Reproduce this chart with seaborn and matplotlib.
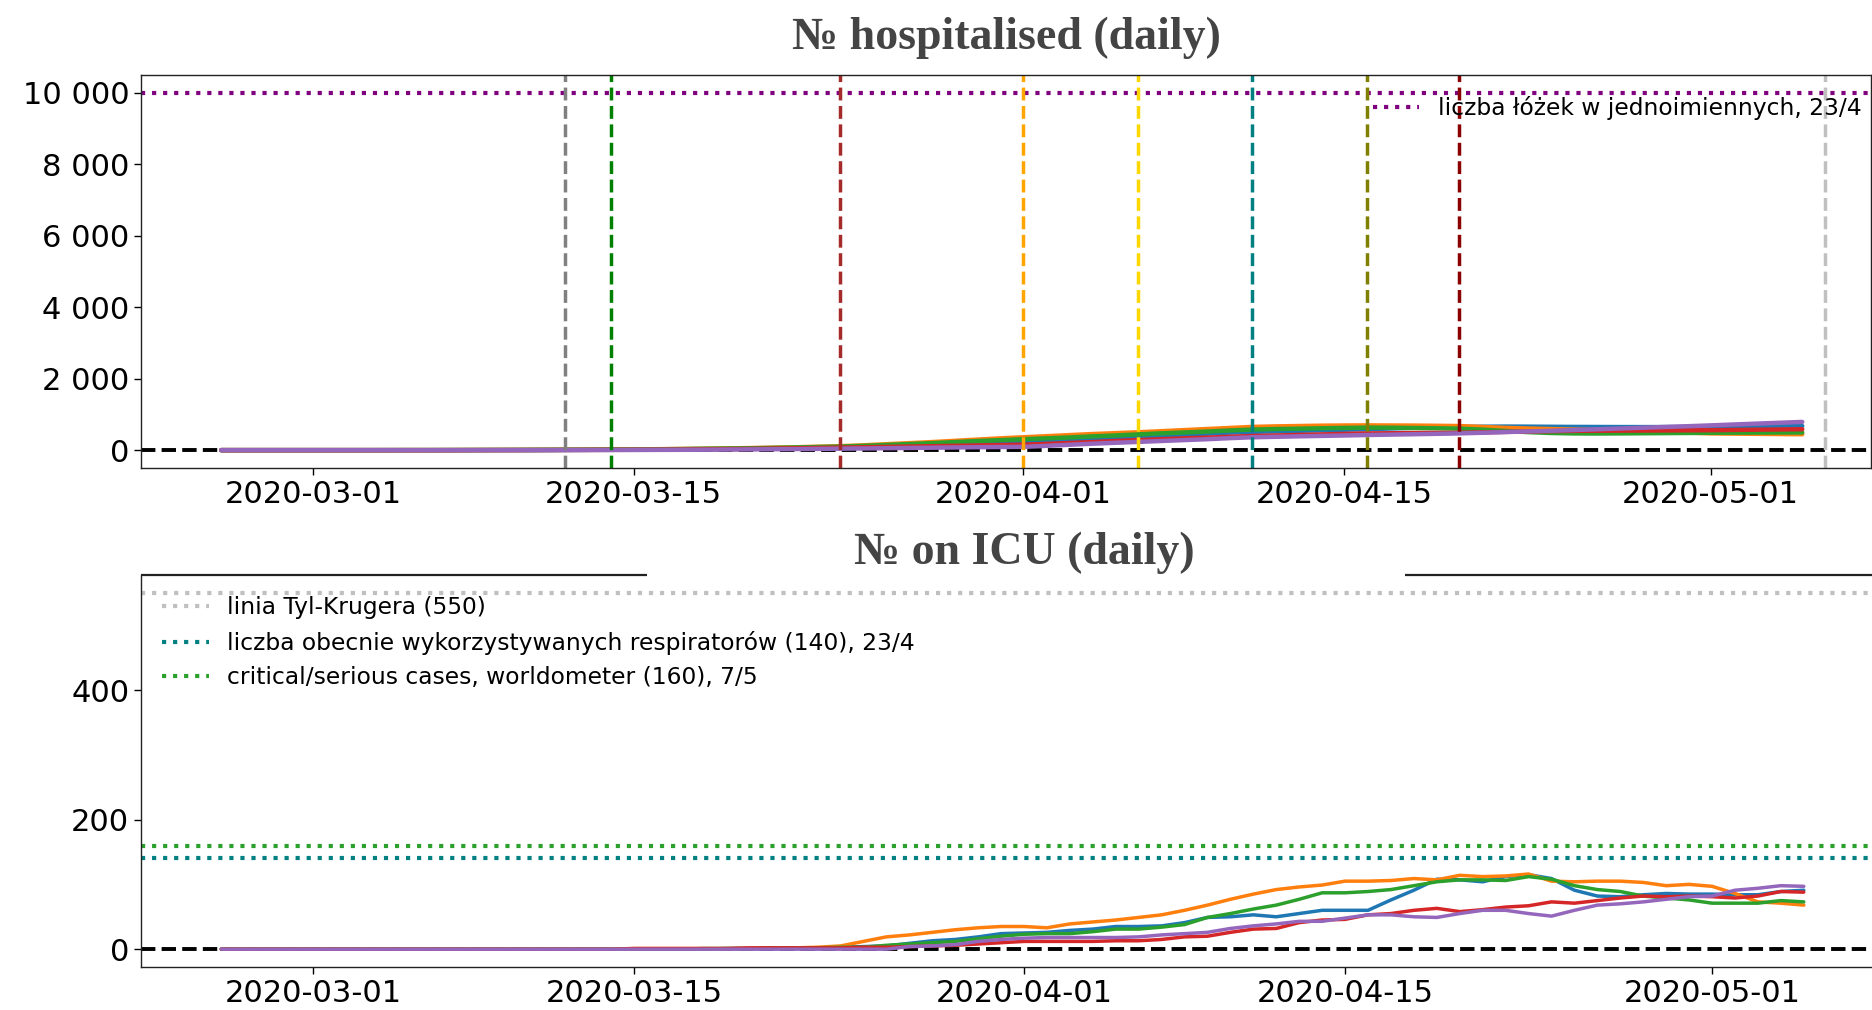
import numpy as np
import pandas as pd
import matplotlib
matplotlib.use("Agg")
import matplotlib.pyplot as plt
import matplotlib.dates as mdates
from matplotlib.ticker import FuncFormatter, FixedLocator
import seaborn as sns

# ---- data -------------------------------------------------------------
start_date = "2020-02-26"
end_date = "2020-05-05"
series_names = ["seria 1", "seria 2", "seria 3", "seria 4", "seria 5"]
series_colors = ["#1f77b4", "#ff7f0e", "#2ca02c", "#d62728", "#9467bd"]

# number hospitalised, daily
hosp_1 = [0, 0, 0, 0, 0, 0, 0, 0, 0, 0, 1, 2, 3, 4, 5, 7, 9, 12, 15, 19, 24, 30, 37, 45,
          53, 62, 71, 80, 95, 110, 125, 140, 160, 180, 198, 216, 245, 275, 305, 335, 370,
          400, 430, 460, 490, 513, 525, 540, 555, 570, 585, 605, 625, 640, 650, 655, 660,
          658, 654, 650, 648, 646, 645, 646, 648, 650, 655, 662, 668, 675]
hosp_2 = [0, 0, 0, 0, 0, 0, 0, 0, 1, 1, 2, 3, 4, 6, 8, 10, 13, 16, 20, 26, 33, 40, 48, 57,
          68, 80, 94, 110, 135, 165, 195, 225, 260, 295, 330, 360, 390, 420, 450, 475, 500,
          530, 560, 590, 620, 650, 665, 675, 685, 690, 693, 690, 688, 682, 675, 650, 625,
          605, 590, 576, 560, 545, 530, 510, 490, 468, 462, 456, 450, 445]
hosp_3 = [0, 0, 0, 0, 0, 0, 0, 0, 1, 1, 2, 3, 4, 5, 7, 9, 12, 15, 19, 24, 30, 37, 44, 52,
          62, 74, 87, 100, 120, 145, 170, 195, 225, 255, 280, 306, 330, 355, 385, 410, 440,
          470, 495, 520, 550, 576, 590, 600, 612, 622, 630, 628, 620, 612, 603, 575, 540,
          505, 480, 468, 465, 468, 472, 476, 480, 486, 489, 492, 494, 495]
hosp_4 = [0, 0, 0, 0, 0, 0, 0, 0, 0, 0, 0, 1, 2, 2, 3, 4, 6, 8, 10, 13, 17, 22, 28, 35,
          43, 52, 61, 70, 80, 90, 100, 110, 120, 130, 142, 153, 175, 200, 225, 255, 280,
          305, 330, 350, 375, 396, 410, 425, 440, 455, 468, 473, 478, 482, 486, 498, 510,
          520, 530, 540, 543, 546, 549, 552, 555, 558, 565, 572, 578, 585]
hosp_5 = [0, 0, 0, 0, 0, 0, 0, 0, 0, 0, 0, 0, 0, 0, 1, 2, 3, 4, 5, 7, 9, 12, 16, 20,
          25, 30, 35, 40, 47, 54, 61, 68, 75, 82, 87, 92, 120, 150, 180, 205, 230,
          255, 280, 305, 335, 360, 373, 386, 398, 410, 423, 434, 445, 456, 468, 486, 505,
          523, 541, 560, 582, 604, 626, 648, 670, 693, 718, 742, 766, 790]

# number on ICU, daily
icu_1 = [0] * 20 + [0, 0, 1, 1, 1, 2, 2, 3] + \
        [4, 5, 9, 13, 15, 19, 24] + \
        [25, 26, 29, 31, 35, 35, 36, 41, 49, 50, 53, 50, 55, 60, 60, 60, 76, 91, 108, 107,
         104, 112, 115, 109, 91, 82, 81, 84, 86, 85] + \
        [85, 84, 84, 89, 91]
icu_2 = [0] * 16 + [0, 0, 1, 1, 1, 1, 1, 1, 2, 2, 3, 5] + \
        [12, 19, 22, 26, 30, 33, 35] + \
        [35, 33, 39, 42, 45, 49, 53, 60, 68, 77, 85, 92, 96, 99, 105, 105, 106, 109, 107, 114,
         112, 113, 116, 105, 104, 105, 105, 103, 98, 100] + \
        [97, 86, 73, 71, 68]
icu_3 = [0] * 20 + [0, 1, 1, 1, 2, 2, 2, 3] + \
        [3, 6, 8, 10, 12, 16, 20] + \
        [23, 24, 24, 27, 31, 31, 34, 38, 49, 55, 62, 68, 77, 87, 87, 89, 92, 98, 104, 107,
         107, 106, 112, 108, 98, 92, 89, 82, 79, 76] + \
        [71, 71, 71, 75, 73]
icu_4 = [0] * 16 + [0, 0, 1, 1, 1, 1, 1, 2, 2, 2, 2, 2] + \
        [3, 3, 4, 5, 6, 8, 10] + \
        [12, 12, 12, 12, 13, 13, 15, 19, 20, 26, 31, 32, 41, 45, 46, 53, 55, 60, 63, 58,
         61, 65, 67, 73, 71, 75, 79, 82, 81, 82] + \
        [81, 79, 82, 89, 88]
icu_5 = [0] * 28 + \
        [0, 0, 4, 5, 7, 12, 15] + \
        [17, 18, 18, 18, 18, 19, 22, 24, 26, 32, 36, 39, 43, 43, 48, 53, 53, 50, 49, 55,
         60, 60, 55, 51, 60, 68, 70, 73, 77, 81] + \
        [82, 91, 94, 98, 97]

# reference levels
beds_level = 10000
beds_label = "liczba łóżek w jednoimiennych, 23/4"
icu_levels = [550, 140, 160]
icu_level_labels = ["linia Tyl-Krugera (550)",
                    "liczba obecnie wykorzystywanych respiratorów (140), 23/4",
                    "critical/serious cases, worldometer (160), 7/5"]
icu_level_colors = ["silver", "teal", "#2ca02c"]

# dated events
event_dates = ["2020-03-12", "2020-03-14", "2020-03-24", "2020-04-01", "2020-04-06",
               "2020-04-11", "2020-04-16", "2020-04-20", "2020-05-06"]
event_colors = ["gray", "green", "brown", "orange", "gold", "teal", "olive",
                "darkred", "silver"]

hosp_ticks = [0, 2000, 4000, 6000, 8000, 10000]
icu_ticks = [0, 200, 400]
title_hosp = "№ hospitalised (daily)"
title_icu = "№ on ICU (daily)"

# ---- frames -----------------------------------------------------------
dates = pd.date_range(start_date, end_date, freq="D")


def long_frame(columns):
    return pd.DataFrame({
        "data": np.tile(dates, len(columns)),
        "seria": np.repeat(series_names, len(dates)),
        "liczba": np.concatenate([np.asarray(c, dtype=float) for c in columns]),
    })


hosp_df = long_frame([hosp_1, hosp_2, hosp_3, hosp_4, hosp_5])
icu_df = long_frame([icu_1, icu_2, icu_3, icu_4, icu_5])

# ---- style ------------------------------------------------------------
sns.set_theme(style="ticks", rc={
    "axes.linewidth": 1.0,
    "axes.edgecolor": "#222222",
    "xtick.major.size": 5,
    "ytick.major.size": 5,
    "xtick.major.width": 1.0,
    "ytick.major.width": 1.0,
    "xtick.labelsize": 22,
    "ytick.labelsize": 22,
    "xtick.color": "black",
    "ytick.color": "black",
    "text.color": "black",
})
plt.rcParams["font.family"] = ["DejaVu Sans"]

W, H = 1872, 1010
fig = plt.figure(figsize=(W / 100, H / 100), dpi=100)
fig.patch.set_facecolor("white")

ax1 = fig.add_axes([141 / W, 1 - 468 / H, (1871 - 141) / W, (468 - 75) / H])
ax2 = fig.add_axes([141 / W, 1 - 967 / H, (1907 - 141) / W, (967 - 575) / H])

title_font = dict(family="Liberation Serif", fontsize=33, fontweight="bold",
                  color="#444444")
thousands = FuncFormatter(lambda v, p: f"{v:,.0f}".replace(",", " "))

# ---- hospitalised -----------------------------------------------------
ax1.axhline(0, color="black", ls="--", lw=2.8)
beds_line = ax1.axhline(beds_level, color="purple", ls=":", lw=3, label=beds_label)
sns.lineplot(data=hosp_df, x="data", y="liczba", hue="seria", hue_order=series_names,
             palette=series_colors, linewidth=3.2, legend=False, ax=ax1)
for d, c in zip(event_dates, event_colors):
    ax1.axvline(pd.Timestamp(d), color=c, ls="--", lw=2.5)
ax1.set_xlim(pd.Timestamp("2020-02-22 12:00"), pd.Timestamp("2020-05-08 00:00"))
ax1.set_ylim(-500, 10500)
ax1.yaxis.set_major_locator(FixedLocator(hosp_ticks))
ax1.yaxis.set_major_formatter(thousands)
ax1.legend(handles=[beds_line], loc="upper right", frameon=False, fontsize=16.8,
           bbox_to_anchor=(1.0068, 1.0), borderaxespad=0.5)
ax1.set_title(title_hosp, pad=19, **title_font)

# ---- ICU ---------------------------------------------------------------
ax2.axhline(0, color="black", ls="--", lw=2.8)
level_lines = [ax2.axhline(v, color=c, ls=":", lw=3, label=l)
               for v, c, l in zip(icu_levels, icu_level_colors, icu_level_labels)]
sns.lineplot(data=icu_df, x="data", y="liczba", hue="seria", hue_order=series_names,
             palette=series_colors, linewidth=2.5, legend=False, ax=ax2)
ax2.set_xlim(pd.Timestamp("2020-02-22 12:00"), pd.Timestamp("2020-05-09 12:00"))
ax2.set_ylim(-27.5, 577.5)
ax2.yaxis.set_major_locator(FixedLocator(icu_ticks))
ax2.yaxis.set_major_formatter(thousands)
ax2.legend(handles=level_lines, loc="upper left", frameon=False, fontsize=16.8)
ax2.set_title(title_icu, pad=8, **title_font)

# top frame of the ICU panel is interrupted around its title
ax2.spines["top"].set_visible(False)
ax2.spines["right"].set_visible(False)
for x0, x1 in [(0.0, (647 - 141) / 1766), ((1405 - 141) / 1766, 1.0)]:
    ax2.plot([x0, x1], [1, 1], transform=ax2.transAxes, color="#222222", lw=1.6,
             clip_on=False, solid_capstyle="butt")

for ax in (ax1, ax2):
    ax.set_xlabel("")
    ax.set_ylabel("")
    ax.xaxis.set_major_locator(mdates.DayLocator(bymonthday=[1, 15]))
    ax.xaxis.set_major_formatter(mdates.DateFormatter("%Y-%m-%d"))

fig.savefig("out.png", dpi=100, facecolor="white")
